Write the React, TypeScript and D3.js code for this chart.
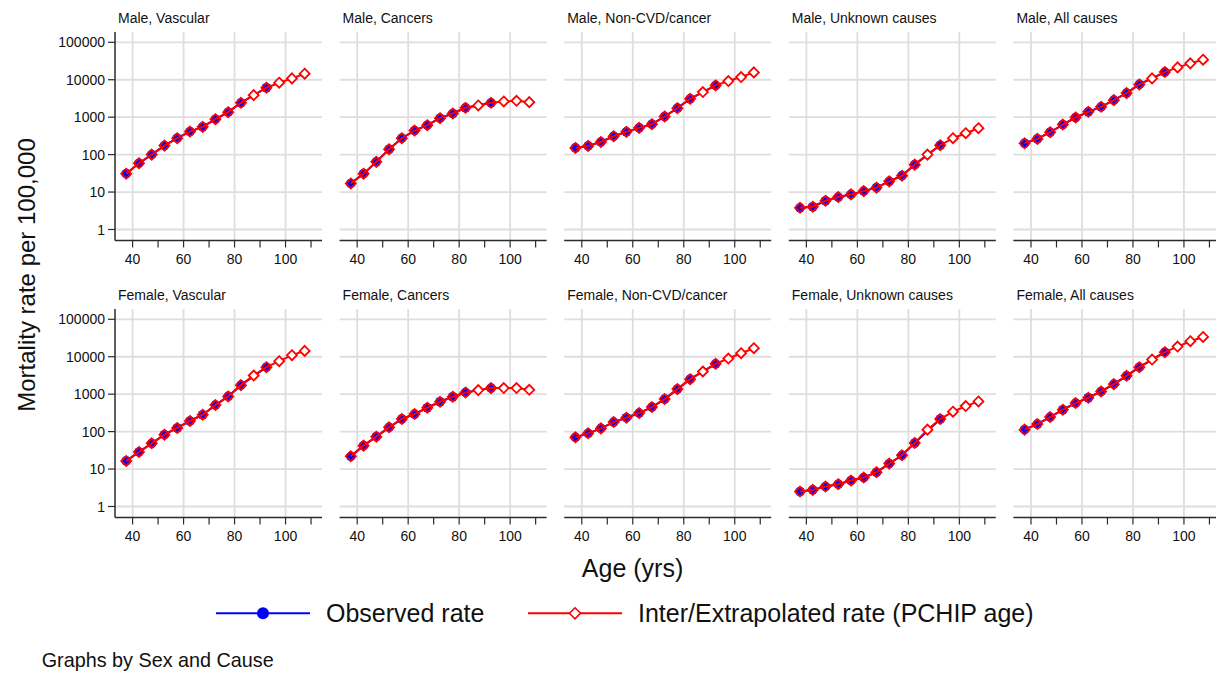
import React from 'react';
import * as d3 from 'd3';

// age groups (midpoints) and which of them were observed
const ages = [37.5, 42.5, 47.5, 52.5, 57.5, 62.5, 67.5, 72.5, 77.5, 82.5, 87.5, 92.5, 97.5, 102.5, 107.5];
const observedAges = [37.5, 42.5, 47.5, 52.5, 57.5, 62.5, 67.5, 72.5, 77.5, 82.5, 92.5];

const xTicks = [40, 60, 80, 100];
const xMinorTicks = [50, 70, 90, 110];
const yTicks = [1, 10, 100, 1000, 10000, 100000];

// rates per 100,000
const maleVascular = [31, 59, 100, 174, 274, 413, 551, 884, 1360, 2420, 3880, 6110, 8320, 10860, 14480];
const maleCancers = [17, 31, 64, 139, 274, 439, 611, 940, 1254, 1778, 2053, 2420, 2630, 2738, 2523];
const maleNonCvd = [151, 171, 218, 310, 405, 518, 649, 1042, 1742, 3097, 4677, 7050, 9210, 11790, 15710];
const maleUnknown = [3.8, 4.05, 5.86, 7.35, 8.66, 10.6, 13.1, 19.3, 27.4, 54, 100, 178, 274, 373, 507];
const maleAll = [201, 263, 396, 636, 980, 1389, 1892, 2853, 4395, 7500, 10860, 16030, 21380, 27380, 34350];
const femaleVascular = [16.5, 28.6, 48.7, 82.8, 125, 192, 282, 511, 871, 1744, 3155, 5260, 7600, 10990, 14330];
const femaleCancers = [21.9, 42.2, 73.3, 130, 217, 294, 434, 627, 853, 1112, 1283, 1452, 1460, 1455, 1310];
const femaleNonCvd = [70.3, 89.9, 122, 180, 235, 313, 452, 739, 1365, 2518, 4035, 6457, 8954, 12420, 16870];
const femaleUnknown = [2.51, 2.78, 3.41, 3.94, 4.93, 5.93, 8.22, 14.0, 23.3, 49.7, 113, 217, 340, 481, 640];
const femaleAll = [113, 159, 245, 384, 578, 802, 1183, 1854, 3090, 5260, 8415, 13210, 18700, 25960, 33800];

const panelTitles = [
    'Male, Vascular', 'Male, Cancers', 'Male, Non-CVD/cancer', 'Male, Unknown causes', 'Male, All causes',
    'Female, Vascular', 'Female, Cancers', 'Female, Non-CVD/cancer', 'Female, Unknown causes', 'Female, All causes',
];
const panelRates = [
    maleVascular, maleCancers, maleNonCvd, maleUnknown, maleAll,
    femaleVascular, femaleCancers, femaleNonCvd, femaleUnknown, femaleAll,
];

const legendLabels = ['Observed rate', 'Inter/Extrapolated rate (PCHIP age)'];

const FONT = '"Liberation Sans", Arial, Helvetica, sans-serif';
const BLUE = '#0000ff';
const RED = '#ff0000';
const GRID = '#dedede';
const AXIS = '#2b2b2b';

const W = 1216;
const H = 673;
const panelLeft = 115;
const panelPitchX = 224.6;
const panelW = 207;
const panelTops = [32, 309];
const panelH = 208.5;

const xScale = d3.scaleLinear().domain([33.1, 114.3]).range([0, panelW]);
const yScale = d3.scaleLog().domain([Math.pow(10, -0.294), Math.pow(10, 5.275)]).range([panelH, 0]);

const diamond = (cx: number, cy: number, r: number) =>
    `M${cx},${cy - r}L${cx + r},${cy}L${cx},${cy + r}L${cx - r},${cy}Z`;

const Panel = ({ title, rates, col, row }: { title: string; rates: number[]; col: number; row: number }) => {
    const x0 = panelLeft + col * panelPitchX;
    const y0 = panelTops[row];
    const points = ages.map((a, i) => ({ age: a, rate: rates[i], observed: observedAges.includes(a) }));
    const obs = points.filter(p => p.observed);

    const line = d3.line<{ age: number; rate: number }>()
        .x(d => xScale(d.age))
        .y(d => yScale(d.rate));

    return (
        <g transform={`translate(${x0},${y0})`}>
            <text x={3} y={-9} fontSize={14} fill="#111">{title}</text>

            {/* grid */}
            {yTicks.map(t => (
                <line key={'gy' + t} x1={0} x2={panelW} y1={yScale(t)} y2={yScale(t)} stroke={GRID} strokeWidth={1.8} />
            ))}
            {xTicks.map(t => (
                <line key={'gx' + t} x1={xScale(t)} x2={xScale(t)} y1={0} y2={panelH} stroke={GRID} strokeWidth={1.8} />
            ))}

            {/* x axis */}
            <line x1={0} x2={panelW} y1={panelH} y2={panelH} stroke={AXIS} strokeWidth={1.5} />
            {xTicks.concat(xMinorTicks).map(t => (
                <line key={'xt' + t} x1={xScale(t)} x2={xScale(t)} y1={panelH} y2={panelH + 7} stroke={AXIS} strokeWidth={1.2} />
            ))}
            {xTicks.map(t => (
                <text key={'xl' + t} x={xScale(t)} y={panelH + 23.5} fontSize={14} textAnchor="middle" fill="#111">{t}</text>
            ))}

            {/* y axis only on the first column */}
            {col === 0 && (
                <g>
                    <line x1={0} x2={0} y1={0} y2={panelH} stroke={AXIS} strokeWidth={1.5} />
                    {yTicks.map(t => (
                        <g key={'yt' + t}>
                            <line x1={-7} x2={0} y1={yScale(t)} y2={yScale(t)} stroke={AXIS} strokeWidth={1.2} />
                            <text x={-10} y={yScale(t)} dy="0.36em" fontSize={14} textAnchor="end" fill="#111">{t}</text>
                        </g>
                    ))}
                </g>
            )}

            {/* observed */}
            <path d={line(obs) || ''} fill="none" stroke={BLUE} strokeWidth={2} />
            {obs.map(p => (
                <circle key={'o' + p.age} cx={xScale(p.age)} cy={yScale(p.rate)} r={4.8} fill={BLUE} />
            ))}

            {/* inter/extrapolated */}
            <path d={line(points) || ''} fill="none" stroke={RED} strokeWidth={2} />
            {points.map(p => (
                <path key={'d' + p.age} d={diamond(xScale(p.age), yScale(p.rate), 5)}
                    fill={p.observed ? 'none' : '#fff'} stroke={RED} strokeWidth={1.8} />
            ))}
        </g>
    );
};

const App = () => {
    return (
        <svg width={W} height={H} style={{ position: 'absolute', left: 0, top: 0, background: '#fff' }} fontFamily={FONT}>
            <rect width={W} height={H} fill="#fff" />
            {panelTitles.map((t, i) => (
                <Panel key={t} title={t} rates={panelRates[i]} col={i % 5} row={Math.floor(i / 5)} />
            ))}

            {/* axis titles */}
            <text transform="translate(35,275) rotate(-90)" fontSize={24} textAnchor="middle" fill="#111">
                Mortality rate per 100,000
            </text>
            <text x={632.5} y={577} fontSize={25} textAnchor="middle" fill="#111">Age (yrs)</text>

            {/* legend */}
            <line x1={216} x2={310} y1={613.3} y2={613.3} stroke={BLUE} strokeWidth={2} />
            <circle cx={263} cy={613.3} r={6} fill={BLUE} />
            <text x={326} y={622.3} fontSize={25} fill="#111">{legendLabels[0]}</text>
            <line x1={528} x2={622} y1={613.3} y2={613.3} stroke={RED} strokeWidth={2} />
            <path d={diamond(575, 613.3, 5.5)} fill="#fff" stroke={RED} strokeWidth={1.6} />
            <text x={638} y={622.3} fontSize={25} fill="#111">{legendLabels[1]}</text>

            <text x={41.7} y={666.7} fontSize={19.8} fill="#111">Graphs by Sex and Cause</text>
        </svg>
    );
};

export default App;
